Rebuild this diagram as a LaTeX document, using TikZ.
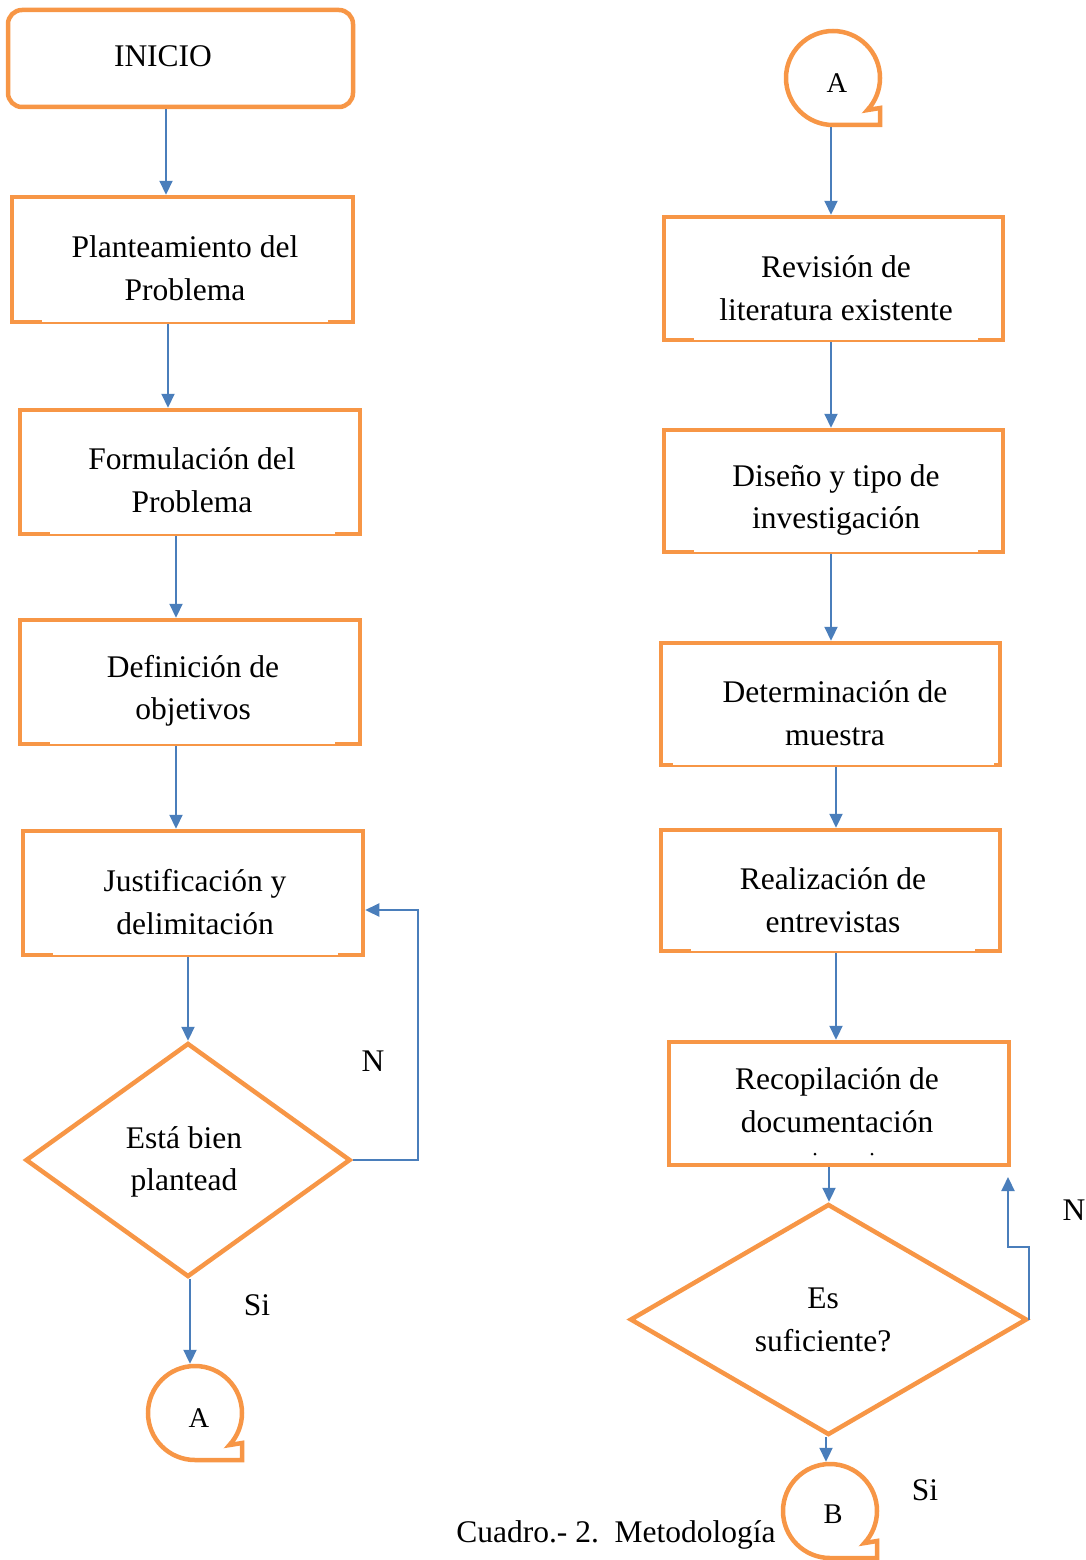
\documentclass[tikz,border=0pt]{standalone}
\usepackage{fontspec}
\setmainfont{Liberation Serif}
\usetikzlibrary{arrows.meta,shapes.geometric,calc}
\definecolor{orn}{HTML}{F79646}
\definecolor{blu}{HTML}{4A7EBB}
\newcommand\botgap[3]{\fill[white] ([shift={(#2,-4.9)}]#1.south west) rectangle ([shift={(-#3,-2.3)}]#1.south east);}
\newcommand\tapeshape[1]{\draw[ob, line join=miter] ([shift={(0,47)}]#1.center) arc[start angle=90, end angle=403, radius=47] -- ([shift={(47,30)}]#1.center) -- ([shift={(47,47)}]#1.center) -- cycle;}
\begin{document}
\begin{tikzpicture}[x=1pt,y=-1pt,
  ob/.style={draw=orn, line width=4.5pt},
  boxn/.style={ob, rectangle, inner sep=0pt},
  startn/.style={ob, rectangle, rounded corners=14pt, inner sep=0pt},
  decn/.style={ob, diamond, inner sep=0pt},
  connn/.style={circle, inner sep=0pt, outer sep=0pt, minimum size=98.5pt},
  ctxt/.style={inner sep=0pt, font=\fontsize{28.5}{30}\selectfont},
  txt/.style={align=center, font=\fontsize{31.5}{42.5}\selectfont, inner sep=0pt},
  lbl/.style={font=\fontsize{31.5}{42.5}\selectfont, inner sep=0pt, anchor=base},
  arr/.style={draw=blu, line width=2.2pt, -{Triangle[length=14pt,width=13pt]}},
]
\useasboundingbox (0,0) rectangle (1086,1560);

% left column
\node[startn, minimum width=345pt, minimum height=97pt] (inicio) at (180.5,58.5) {};
\node[txt] (inicioT) at (163,56) {INICIO};
\node[boxn, minimum width=341pt, minimum height=125pt] (b1) at (182.5,259.5) {};
\node[txt] (b1T) at (185,268) {Planteamiento del\\Problema};
\node[boxn, minimum width=340pt, minimum height=124pt] (b2) at (190,472) {};
\node[txt] (b2T) at (192,480) {Formulación del\\Problema};
\node[boxn, minimum width=340pt, minimum height=124pt] (b3) at (190,682) {};
\node[txt] (b3T) at (193,691) {Definición de\\objetivos};
\node[boxn, minimum width=340pt, minimum height=124pt] (b4) at (193,893) {};
\node[txt] (b4T) at (195,902) {Justificación y\\delimitación};
\node[decn, minimum width=325pt, minimum height=234pt] (d1) at (188,1160) {};
\node[txt] (d1T) at (184,1162) {Está bien\\plantead};
\node[connn] (cA1) at (195,1413) {};
\node[ctxt] (cA1T) at (199,1418) {A};

% right column
\node[connn] (cA2) at (833,78) {};
\node[ctxt] (cA2T) at (837,83) {A};
\node[boxn, minimum width=339pt, minimum height=123pt] (r1) at (833.5,278.5) {};
\node[txt] (r1T) at (836,288) {Revisión de\\literatura existente};
\node[boxn, minimum width=339pt, minimum height=122pt] (r2) at (833.5,491) {};
\node[txt] (r2T) at (836,500) {Diseño y tipo de\\investigación};
\node[boxn, minimum width=339pt, minimum height=122pt] (r3) at (830.5,704) {};
\node[txt] (r3T) at (835,713) {Determinación de\\muestra};
\node[boxn, minimum width=339pt, minimum height=121pt] (r4) at (830.5,890.5) {};
\node[txt] (r4T) at (833,900) {Realización de\\entrevistas};
\node[boxn, minimum width=340pt, minimum height=123pt] (r5) at (839,1103.5) {};
\node[txt] (r5T) at (837,1100) {Recopilación de\\documentación};
\fill (815,1154) circle[radius=1.5pt];
\fill (872,1154) circle[radius=1.5pt];
\node[decn, minimum width=397pt, minimum height=231pt] (d2) at (828.5,1319.5) {};
\node[txt] (d2T) at (823,1320) {Es\\suficiente?};
\node[connn] (cB) at (830,1511) {};
\node[ctxt] (cBT) at (833,1514) {B};

% labels
\node[lbl] (nl1) at (373,1071) {N};
\node[lbl] (sl1) at (257,1315) {Si};
\node[lbl] (nl2) at (1074,1220) {N};
\node[lbl] (sl2) at (925,1500) {Si};
\node[lbl] (cap) at (616,1542) {Cuadro.- 2.~~Metodología};

% box bottom artefacts
\botgap{b1}{32}{27}
\botgap{b2}{32}{27}
\botgap{b3}{32}{27}
\botgap{b4}{32}{27}
\botgap{r1}{32}{27}
\botgap{r2}{32}{27}
\botgap{r3}{14}{8}
\botgap{r4}{32}{27}

% connector shapes
\tapeshape{cA1}
\tapeshape{cA2}
\tapeshape{cB}

% coordinates for loops
\coordinate (nL) at (418,910);
\coordinate (nRm) at (1008,1247);
\coordinate (nR) at (1008,1177);

% arrows left
\draw[arr] ([xshift=-14.5pt]inicio.south) -- ([xshift=-16.5pt]b1.north);
\draw[arr] ([xshift=-14.5pt]b1.south) -- ([xshift=-22pt]b2.north);
\draw[arr] ([xshift=-14pt]b2.south) -- ([xshift=-14pt]b3.north);
\draw[arr] ([xshift=-14pt]b3.south) -- ([xshift=-17pt]b4.north);
\draw[arr] ([xshift=-5pt]b4.south) -- (d1.north);
\draw[arr] ([xshift=2pt]d1.south) -- ([xshift=-5pt]cA1.north);
\draw[arr] (d1.east) -| (nL) -- ([yshift=-17pt]b4.east);

% arrows right
\draw[arr] ([xshift=-2pt]cA2.south) -- ([xshift=-2.5pt]r1.north);
\draw[arr] ([xshift=-2.5pt]r1.south) -- ([xshift=-2.5pt]r2.north);
\draw[arr] ([xshift=-2.5pt]r2.south) -- ([xshift=0.5pt]r3.north);
\draw[arr] ([xshift=5.5pt]r3.south) -- ([xshift=5.5pt]r4.north);
\draw[arr] ([xshift=5.5pt]r4.south) -- ([xshift=-3pt]r5.north);
\draw[arr] ([xshift=-10pt]r5.south) -- ([xshift=0.5pt]d2.north);
\draw[arr] ([xshift=-2.5pt]d2.south) -- ([xshift=-4pt]cB.north);
\draw[arr] (d2.east) |- (nRm) -- (nR);
\end{tikzpicture}
\end{document}
